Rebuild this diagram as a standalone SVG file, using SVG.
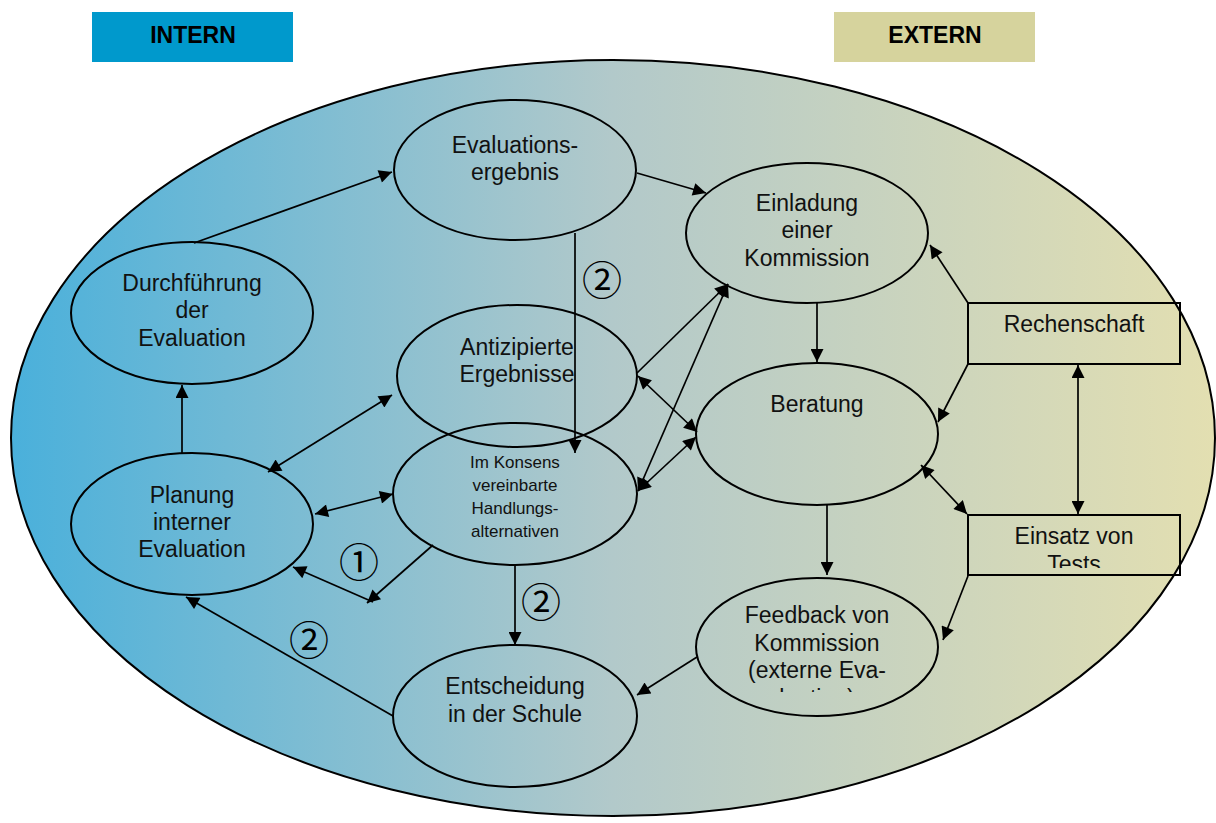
<svg xmlns="http://www.w3.org/2000/svg" width="1216" height="823" viewBox="0 0 1216 823">
<style>
.n{fill:none;stroke:#000;stroke-width:2}
.t{font-family:"Liberation Sans",Arial,sans-serif;font-size:23px;fill:#111;text-anchor:middle}
.ts{font-family:"Liberation Sans",Arial,sans-serif;font-size:17px;fill:#111;text-anchor:middle}
.h{font-family:"Liberation Sans",Arial,sans-serif;font-size:23px;font-weight:bold;fill:#000;text-anchor:middle}
.c{font-family:"Noto Sans CJK JP","DejaVu Sans",sans-serif;font-size:40px;fill:#000;text-anchor:middle;dominant-baseline:central}
.e{fill:none;stroke:#000;stroke-width:1.7}
.a{marker-end:url(#ah)}
.b{marker-start:url(#ah);marker-end:url(#ah)}
</style>
<defs>
<linearGradient id="bg" x1="0" y1="0" x2="1" y2="0">
<stop offset="0" stop-color="#4AB0DB"/>
<stop offset="0.5" stop-color="#B2C9CA"/>
<stop offset="1" stop-color="#E3DFB1"/>
</linearGradient>
<marker id="ah" viewBox="0 0 10 10" refX="10" refY="5" markerWidth="16" markerHeight="13" markerUnits="userSpaceOnUse" orient="auto-start-reverse">
<path d="M0,0 L10,5 L0,10 z" fill="#000"/>
</marker>
<clipPath id="clipFb"><rect x="696" y="580" width="243" height="112"/></clipPath>
<clipPath id="clipTs"><rect x="968" y="515" width="212" height="53"/></clipPath>
</defs>
<rect width="1216" height="823" fill="#fff"/>
<g id="intern"><rect x="92" y="12" width="201" height="50" fill="#0099CC"/><text class="h" x="193" y="43">INTERN</text></g>
<g id="extern"><rect x="834" y="12" width="201" height="50" fill="#D6D39D"/><text class="h" x="935" y="43">EXTERN</text></g>
<ellipse id="frame" cx="613" cy="438" rx="602" ry="378" fill="url(#bg)" stroke="#000" stroke-width="2"/>
<g id="connectors">
<line class="e a" x1="194" y1="243" x2="392" y2="172"/>
<line class="e a" x1="182" y1="454" x2="182" y2="385"/>
<line class="e b" x1="268" y1="472" x2="392" y2="395"/>
<line class="e b" x1="315" y1="514" x2="393" y2="494"/>
<line class="e a" x1="433" y1="545" x2="367" y2="603"/>
<line class="e a" x1="373" y1="602" x2="293" y2="567"/>
<line class="e a" x1="393" y1="716" x2="186" y2="597"/>
<line class="e a" x1="575" y1="233" x2="575" y2="453"/>
<line class="e a" x1="515" y1="566" x2="515" y2="645"/>
<line class="e a" x1="637" y1="173" x2="706" y2="193"/>
<line class="e a" x1="637" y1="373" x2="728" y2="284"/>
<line class="e b" x1="638" y1="376" x2="697" y2="432"/>
<line class="e b" x1="638" y1="491" x2="728" y2="284"/>
<line class="e b" x1="638" y1="491" x2="696" y2="437"/>
<line class="e a" x1="817" y1="303" x2="817" y2="362"/>
<line class="e a" x1="827" y1="505" x2="827" y2="575"/>
<line class="e a" x1="697" y1="657" x2="637" y2="695"/>
<line class="e a" x1="968" y1="303" x2="930" y2="245"/>
<line class="e a" x1="968" y1="364" x2="938" y2="422"/>
<line class="e b" x1="1078" y1="365" x2="1078" y2="514"/>
<line class="e b" x1="921" y1="465" x2="967" y2="514"/>
<line class="e a" x1="968" y1="576" x2="943" y2="640"/>
</g>
<g id="n-durch"><ellipse class="n" cx="192" cy="313" rx="121" ry="71"/><text class="t" x="192" y="291">Durchführung</text><text class="t" x="192" y="318">der</text><text class="t" x="192" y="346">Evaluation</text></g>
<g id="n-planung"><ellipse class="n" cx="192" cy="524" rx="121" ry="71"/><text class="t" x="192" y="503">Planung</text><text class="t" x="192" y="530">interner</text><text class="t" x="192" y="557">Evaluation</text></g>
<g id="n-ergebnis"><ellipse class="n" cx="515" cy="170" rx="121" ry="70"/><text class="t" x="515" y="153">Evaluations-</text><text class="t" x="515" y="180">ergebnis</text></g>
<g id="n-antizip"><ellipse class="n" cx="517" cy="376" rx="120" ry="71"/><text class="t" x="517" y="355">Antizipierte</text><text class="t" x="517" y="382">Ergebnisse</text></g>
<g id="n-konsens"><ellipse class="n" cx="515" cy="494" rx="122" ry="71"/><text class="ts" x="515" y="468">Im Konsens</text><text class="ts" x="515" y="491">vereinbarte</text><text class="ts" x="515" y="514">Handlungs-</text><text class="ts" x="515" y="537">alternativen</text></g>
<g id="n-entsch"><ellipse class="n" cx="515" cy="716" rx="122" ry="71"/><text class="t" x="515" y="694">Entscheidung</text><text class="t" x="515" y="722">in der Schule</text></g>
<g id="n-einladung"><ellipse class="n" cx="807" cy="233" rx="121" ry="70"/><text class="t" x="807" y="211">Einladung</text><text class="t" x="807" y="238">einer</text><text class="t" x="807" y="266">Kommission</text></g>
<g id="n-beratung"><ellipse class="n" cx="817" cy="434" rx="121" ry="71"/><text class="t" x="817" y="412">Beratung</text></g>
<g id="n-feedback"><ellipse class="n" cx="817" cy="647" rx="121" ry="69"/><g clip-path="url(#clipFb)"><text class="t" x="817" y="623">Feedback von</text><text class="t" x="817" y="651">Kommission</text><text class="t" x="817" y="678">(externe Eva-</text><text class="t" x="817" y="706">luation)</text></g></g>
<g id="n-rechenschaft"><rect class="n" x="968" y="303" width="212" height="61"/><text class="t" x="1074" y="332">Rechenschaft</text></g>
<g id="n-tests"><rect class="n" x="968" y="515" width="212" height="60"/><g clip-path="url(#clipTs)"><text class="t" x="1074" y="544">Einsatz von</text><text class="t" x="1074" y="572">Tests</text></g></g>
<g id="labels">
<text class="c" x="602" y="278">②</text>
<text class="c" x="359" y="560">①</text>
<text class="c" x="541" y="600">②</text>
<text class="c" x="309" y="638">②</text>
</g>
</svg>
